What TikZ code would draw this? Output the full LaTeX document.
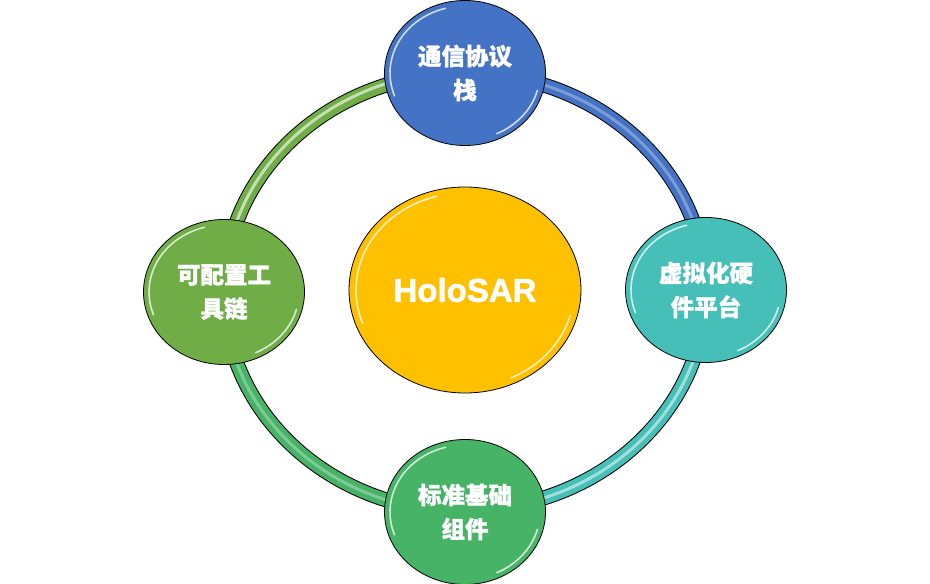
\documentclass[tikz,border=0pt]{standalone}
\usepackage{fontspec}
\setmainfont{Liberation Sans}[BoldFeatures={FakeBold=1.6}]
\newfontfamily\cjk{Noto Sans CJK SC}[BoldFeatures={FakeBold=1.2}]
\usetikzlibrary{shapes.geometric,backgrounds}

\definecolor{stackblue}{HTML}{4472C4}
\definecolor{hwteal}{HTML}{45BFB8}
\definecolor{basegreen}{HTML}{47B366}
\definecolor{toolgreen}{HTML}{70AD47}
\definecolor{holoyellow}{HTML}{FFC000}

\tikzset{
  part/.style={ellipse, draw=black, line width=0.8pt, inner sep=0pt,
    minimum width=161pt, minimum height=145pt, text=white, align=center,
    font=\cjk\bfseries\fontsize{23.5}{34}\selectfont},
  ringedge/.style={draw=black, line width=15pt},
  ringfill/.style={line width=13pt},
  gloss/.style={white, line width=1.6pt, opacity=.75, line cap=round},
}

\begin{document}
\begin{tikzpicture}[x=1pt, y=1pt]
  \useasboundingbox (0,0) rectangle (930,584);
  % centre and the four parts
  \node[part, fill=holoyellow, minimum width=232pt, minimum height=206pt,
        font=\bfseries\fontsize{33}{38}\selectfont] (holo) at (465,294) {HoloSAR};
  \node[part, fill=stackblue] (stack) at (465,511) {通信协议\\栈};
  \node[part, fill=hwteal]    (hw)    at (706,294) {虚拟化硬\\件平台};
  \node[part, fill=basegreen] (base)  at (465,72)  {标准基础\\组件};
  \node[part, fill=toolgreen] (tool)  at (224,292) {可配置工\\具链};
  % glossy rims
  \foreach \n/\rx/\ry in {stack/75/67, hw/75/67, base/75/67, tool/75/67, holo/109/97} {
    \draw[gloss] (\n.center) ++(105:{\rx} and {\ry}) arc[start angle=105, end angle=200, x radius=\rx, y radius=\ry];
    \draw[gloss] (\n.center) ++(-15:{\rx} and {\ry}) arc[start angle=-15, end angle=-65, x radius=\rx, y radius=\ry];
  }
  % the ring behind the parts
  \begin{scope}[on background layer]
    \draw[ringedge] (stack.center) arc[start angle=90, end angle=0, x radius=241, y radius=219];
    \draw[ringedge] (hw.center) arc[start angle=0, end angle=-90, x radius=241, y radius=220];
    \draw[ringedge] (base.center) arc[start angle=-90, end angle=-180, x radius=241, y radius=220];
    \draw[ringedge] (tool.center) arc[start angle=180, end angle=90, x radius=241, y radius=219];
    \draw[ringfill, stackblue] (stack.center) arc[start angle=90, end angle=0, x radius=241, y radius=219];
    \draw[ringfill, hwteal] (hw.center) arc[start angle=0, end angle=-90, x radius=241, y radius=220];
    \draw[ringfill, basegreen] (base.center) arc[start angle=-90, end angle=-180, x radius=241, y radius=220];
    \draw[ringfill, toolgreen] (tool.center) arc[start angle=180, end angle=90, x radius=241, y radius=219];
    % light stripe along the ring
    \draw[white, opacity=.3, line width=3pt] (stack.center) arc[start angle=90, end angle=0, x radius=241, y radius=219];
    \draw[white, opacity=.5, line width=3pt] (hw.center) arc[start angle=0, end angle=-90, x radius=241, y radius=220];
    \draw[white, opacity=.3, line width=3pt] (base.center) arc[start angle=-90, end angle=-180, x radius=241, y radius=220];
    \draw[white, opacity=.6, line width=3pt] (tool.center) arc[start angle=180, end angle=90, x radius=243, y radius=221];
  \end{scope}
\end{tikzpicture}
\end{document}
